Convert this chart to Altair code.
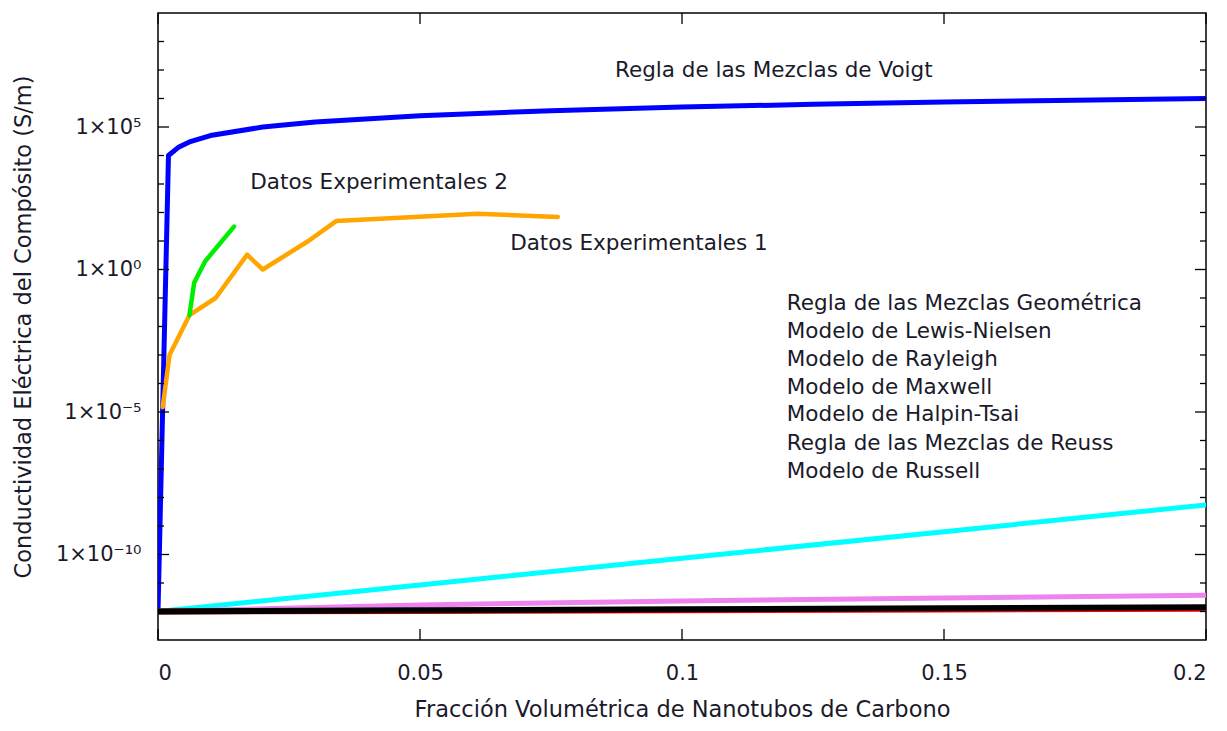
import altair as alt
import pandas as pd

# ---------------- data ----------------
phi_voigt = [0, 0.002, 0.004, 0.006, 0.01, 0.02, 0.03, 0.05, 0.075, 0.1, 0.125, 0.15, 0.175, 0.2]
sig_voigt = [1e-12, 1e4, 2e4, 3e4, 5e4, 1e5, 1.5e5, 2.5e5, 3.75e5, 5e5, 6.25e5, 7.5e5, 8.75e5, 1e6]

phi_exp1 = [0.0009, 0.0022, 0.006, 0.011, 0.017, 0.020, 0.0287, 0.034, 0.061, 0.0763]
sig_exp1 = [1.5e-5, 1e-3, 2.5e-2, 0.1, 3.3, 1.0, 10, 50, 90, 70]

phi_exp2 = [0.006, 0.0069, 0.009, 0.0145]
sig_exp2 = [2.5e-2, 0.34, 1.95, 32]

phi_geo = [0, 0.05, 0.1, 0.15, 0.2]
sig_geo = [1e-12, 8.5e-12, 7.4e-11, 6.3e-10, 5.5e-9]

phi_ln = [0, 0.05, 0.1, 0.15, 0.2]
sig_ln = [1e-12, 1.7e-12, 2.35e-12, 3.0e-12, 3.7e-12]

phi_red = [0, 0.05, 0.1, 0.15, 0.2]
sig_red = [1e-12, 1.05e-12, 1.1e-12, 1.17e-12, 1.25e-12]

phi_black = [0, 0.05, 0.1, 0.15, 0.2]
sig_black = [1e-12, 1.1e-12, 1.2e-12, 1.3e-12, 1.42e-12]

ann_text = ["Regla de las Mezclas de Voigt", "Datos Experimentales 2", "Datos Experimentales 1",
            "Regla de las Mezclas Geométrica", "Modelo de Lewis-Nielsen", "Modelo de Rayleigh",
            "Modelo de Maxwell", "Modelo de Halpin-Tsai", "Regla de las Mezclas de Reuss",
            "Modelo de Russell"]
ann_x = [0.0872, 0.0176, 0.0672, 0.12, 0.12, 0.12, 0.12, 0.12, 0.12, 0.12]
ann_y = [1.1e7, 1.3e3, 9.6, 7.08e-2, 7.24e-3, 7.6e-4, 8.5e-5, 8.9e-6, 9.1e-7, 8.9e-8]

x_ticks = [0, 0.05, 0.1, 0.15, 0.2]
y_major = [1e-10, 1e-5, 1, 1e5]
y_minor = [1e-12, 1e-11, 1e-9, 1e-8, 1e-7, 1e-6, 1e-4, 1e-3, 1e-2, 1e-1,
           1e1, 1e2, 1e3, 1e4, 1e6, 1e7, 1e8]

# ---------------- styling ----------------
W, H = 1048, 627
FONT = "DejaVu Sans"
TXT = "#1a1a2a"
FS = 21

xs = alt.Scale(domain=[0, 0.2], nice=False, zero=False)
ys = alt.Scale(type="log", domain=[1e-13, 1e9], nice=False)

x_axis = alt.Axis(values=x_ticks, format="~g", ticks=False, domain=False, grid=False,
                  labelPadding=22, titlePadding=15, titleFontSize=22.5,
                  title="Fracción Volumétrica de Nanotubos de Carbono")
y_axis = alt.Axis(values=y_major, ticks=False, domain=False, grid=False,
                  labelPadding=17, titlePadding=20, titleFontSize=22.5,
                  labelExpr="{'5':'1×10⁵','0':'1×10⁰','-5':'1×10⁻⁵','-10':'1×10⁻¹⁰'}[''+round(log(datum.value)/LN10)]",
                  title="Conductividad Eléctrica del Compósito (S/m)")


def X(field):
    return alt.X(field, scale=xs, axis=x_axis)


def Y(field):
    return alt.Y(field, scale=ys, axis=y_axis)


series = [
    (phi_voigt, sig_voigt, "#0000ff", 5),
    (phi_exp1, sig_exp1, "#ffa500", 4.5),
    (phi_exp2, sig_exp2, "#00ee00", 4.5),
    (phi_geo, sig_geo, "#00ffff", 5),
    (phi_ln, sig_ln, "#ee82ee", 5),
    (phi_red, sig_red, "#ff0000", 6),
    (phi_black, sig_black, "#000000", 6),
]

layers = []
for px, py, col, sw in series:
    df = pd.DataFrame({"phi": px, "sig": py})
    layers.append(
        alt.Chart(df).mark_line(color=col, strokeWidth=sw, strokeCap="round", strokeJoin="round",
                                clip=True)
        .encode(x=X("phi:Q"), y=Y("sig:Q"))
    )

# annotations
ann = pd.DataFrame({"t": ann_text, "x": ann_x, "y": ann_y})
layers.append(
    alt.Chart(ann).mark_text(align="left", baseline="middle", font=FONT, fontSize=21.5, color=TXT, dy=2)
    .encode(x=X("x:Q"), y=Y("y:Q"), text="t:N")
)

# inward ticks (gnuplot style)
dx = pd.DataFrame({"v": x_ticks})
dmaj = pd.DataFrame({"v": y_major})
dmin = pd.DataFrame({"v": y_minor})
tick_style = dict(color="#000000", strokeWidth=1.3)
layers += [
    alt.Chart(dx).mark_rule(**tick_style).encode(x=X("v:Q"), y=alt.value(H - 11), y2=alt.value(H)),
    alt.Chart(dx).mark_rule(**tick_style).encode(x=X("v:Q"), y=alt.value(0), y2=alt.value(11)),
    alt.Chart(dmaj).mark_rule(**tick_style).encode(y=Y("v:Q"), x=alt.value(0), x2=alt.value(11)),
    alt.Chart(dmaj).mark_rule(**tick_style).encode(y=Y("v:Q"), x=alt.value(W - 11), x2=alt.value(W)),
    alt.Chart(dmin).mark_rule(**tick_style).encode(y=Y("v:Q"), x=alt.value(0), x2=alt.value(6)),
    alt.Chart(dmin).mark_rule(**tick_style).encode(y=Y("v:Q"), x=alt.value(W - 6), x2=alt.value(W)),
]

chart = (
    alt.layer(*layers)
    .properties(width=W, height=H,
                autosize=alt.AutoSizeParams(type="none"),
                padding={"left": 150, "top": 5, "right": 12, "bottom": 83})
    .configure(background="white")
    .configure_view(stroke="#000000", strokeWidth=1.5)
    .configure_axis(labelFont=FONT, titleFont=FONT, labelFontSize=FS, titleFontSize=FS,
                    labelColor=TXT, titleColor=TXT, titleFontWeight="normal")
)

chart.save("out.html", embed_options={"renderer": "svg", "actions": False})
